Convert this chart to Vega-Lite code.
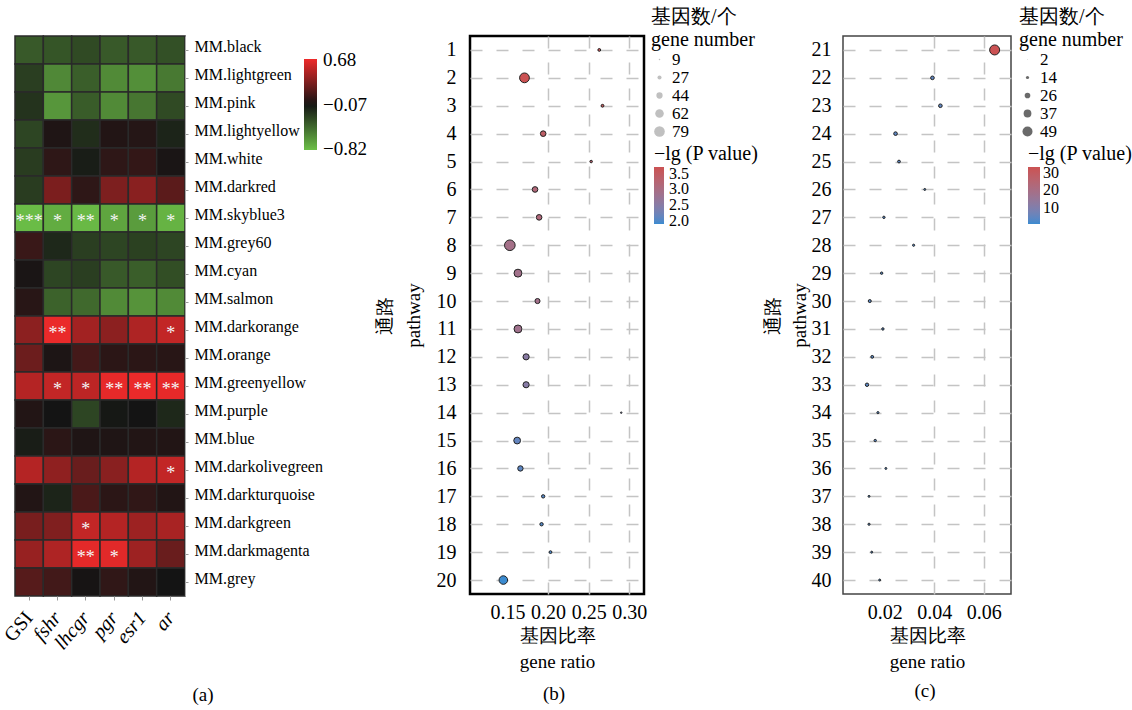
{
  "$schema": "https://vega.github.io/schema/vega-lite/v6.json",
  "padding": {"left": 0, "top": 5, "right": 0, "bottom": 0},
  "config": {
    "font": "Liberation Serif",
    "view": {"stroke": null},
    "axis": {"labelColor": "black", "titleColor": "black", "labelFont": "Liberation Serif", "titleFont": "Liberation Serif", "titleFontWeight": "normal"},
    "legend": {"labelFont": "Liberation Serif", "titleFont": "Liberation Serif", "titleFontWeight": "normal", "labelColor": "black", "titleColor": "black", "padding": 0},
    "title": {"font": "Liberation Serif", "fontWeight": "normal", "fontSize": 19, "color": "black"}
  },
  "bounds": "flush",
  "spacing": 828,
  "resolve": {"scale": {"color": "independent", "size": "independent"}, "legend": {"color": "independent", "size": "independent"}},
  "hconcat": [
    {
      "bounds": "flush",
      "spacing": 285,
      "resolve": {"scale": {"color": "independent", "size": "independent"}, "legend": {"color": "independent", "size": "independent"}},
      "hconcat": [
        {
          "width": 170,
          "height": 560,
          "title": {"text": "(a)", "orient": "bottom", "frame": "group", "dx": 103, "offset": 33},
          "data": {"values": [
            {"module": "MM.black", "trait": "GSI", "r": -0.38, "sig": ""},
            {"module": "MM.black", "trait": "fshr", "r": -0.36, "sig": ""},
            {"module": "MM.black", "trait": "lhcgr", "r": -0.31, "sig": ""},
            {"module": "MM.black", "trait": "pgr", "r": -0.38, "sig": ""},
            {"module": "MM.black", "trait": "esr1", "r": -0.38, "sig": ""},
            {"module": "MM.black", "trait": "ar", "r": -0.34, "sig": ""},
            {"module": "MM.lightgreen", "trait": "GSI", "r": -0.26, "sig": ""},
            {"module": "MM.lightgreen", "trait": "fshr", "r": -0.59, "sig": ""},
            {"module": "MM.lightgreen", "trait": "lhcgr", "r": -0.40, "sig": ""},
            {"module": "MM.lightgreen", "trait": "pgr", "r": -0.60, "sig": ""},
            {"module": "MM.lightgreen", "trait": "esr1", "r": -0.62, "sig": ""},
            {"module": "MM.lightgreen", "trait": "ar", "r": -0.52, "sig": ""},
            {"module": "MM.pink", "trait": "GSI", "r": -0.21, "sig": ""},
            {"module": "MM.pink", "trait": "fshr", "r": -0.65, "sig": ""},
            {"module": "MM.pink", "trait": "lhcgr", "r": -0.39, "sig": ""},
            {"module": "MM.pink", "trait": "pgr", "r": -0.60, "sig": ""},
            {"module": "MM.pink", "trait": "esr1", "r": -0.51, "sig": ""},
            {"module": "MM.pink", "trait": "ar", "r": -0.31, "sig": ""},
            {"module": "MM.lightyellow", "trait": "GSI", "r": -0.29, "sig": ""},
            {"module": "MM.lightyellow", "trait": "fshr", "r": -0.03, "sig": ""},
            {"module": "MM.lightyellow", "trait": "lhcgr", "r": -0.18, "sig": ""},
            {"module": "MM.lightyellow", "trait": "pgr", "r": -0.02, "sig": ""},
            {"module": "MM.lightyellow", "trait": "esr1", "r": -0.01, "sig": ""},
            {"module": "MM.lightyellow", "trait": "ar", "r": -0.14, "sig": ""},
            {"module": "MM.white", "trait": "GSI", "r": -0.25, "sig": ""},
            {"module": "MM.white", "trait": "fshr", "r": 0.02, "sig": ""},
            {"module": "MM.white", "trait": "lhcgr", "r": -0.11, "sig": ""},
            {"module": "MM.white", "trait": "pgr", "r": 0.02, "sig": ""},
            {"module": "MM.white", "trait": "esr1", "r": 0.04, "sig": ""},
            {"module": "MM.white", "trait": "ar", "r": -0.05, "sig": ""},
            {"module": "MM.darkred", "trait": "GSI", "r": -0.25, "sig": ""},
            {"module": "MM.darkred", "trait": "fshr", "r": 0.29, "sig": ""},
            {"module": "MM.darkred", "trait": "lhcgr", "r": 0.02, "sig": ""},
            {"module": "MM.darkred", "trait": "pgr", "r": 0.30, "sig": ""},
            {"module": "MM.darkred", "trait": "esr1", "r": 0.34, "sig": ""},
            {"module": "MM.darkred", "trait": "ar", "r": 0.18, "sig": ""},
            {"module": "MM.skyblue3", "trait": "GSI", "r": -0.82, "sig": "***"},
            {"module": "MM.skyblue3", "trait": "fshr", "r": -0.75, "sig": "*"},
            {"module": "MM.skyblue3", "trait": "lhcgr", "r": -0.81, "sig": "**"},
            {"module": "MM.skyblue3", "trait": "pgr", "r": -0.72, "sig": "*"},
            {"module": "MM.skyblue3", "trait": "esr1", "r": -0.68, "sig": "*"},
            {"module": "MM.skyblue3", "trait": "ar", "r": -0.78, "sig": "*"},
            {"module": "MM.grey60", "trait": "GSI", "r": 0.06, "sig": ""},
            {"module": "MM.grey60", "trait": "fshr", "r": -0.16, "sig": ""},
            {"module": "MM.grey60", "trait": "lhcgr", "r": -0.26, "sig": ""},
            {"module": "MM.grey60", "trait": "pgr", "r": -0.29, "sig": ""},
            {"module": "MM.grey60", "trait": "esr1", "r": -0.27, "sig": ""},
            {"module": "MM.grey60", "trait": "ar", "r": -0.29, "sig": ""},
            {"module": "MM.cyan", "trait": "GSI", "r": -0.05, "sig": ""},
            {"module": "MM.cyan", "trait": "fshr", "r": -0.29, "sig": ""},
            {"module": "MM.cyan", "trait": "lhcgr", "r": -0.26, "sig": ""},
            {"module": "MM.cyan", "trait": "pgr", "r": -0.38, "sig": ""},
            {"module": "MM.cyan", "trait": "esr1", "r": -0.40, "sig": ""},
            {"module": "MM.cyan", "trait": "ar", "r": -0.33, "sig": ""},
            {"module": "MM.salmon", "trait": "GSI", "r": 0.00, "sig": ""},
            {"module": "MM.salmon", "trait": "fshr", "r": -0.42, "sig": ""},
            {"module": "MM.salmon", "trait": "lhcgr", "r": -0.45, "sig": ""},
            {"module": "MM.salmon", "trait": "pgr", "r": -0.60, "sig": ""},
            {"module": "MM.salmon", "trait": "esr1", "r": -0.64, "sig": ""},
            {"module": "MM.salmon", "trait": "ar", "r": -0.60, "sig": ""},
            {"module": "MM.darkorange", "trait": "GSI", "r": 0.35, "sig": ""},
            {"module": "MM.darkorange", "trait": "fshr", "r": 0.68, "sig": "**"},
            {"module": "MM.darkorange", "trait": "lhcgr", "r": 0.43, "sig": ""},
            {"module": "MM.darkorange", "trait": "pgr", "r": 0.35, "sig": ""},
            {"module": "MM.darkorange", "trait": "esr1", "r": 0.47, "sig": ""},
            {"module": "MM.darkorange", "trait": "ar", "r": 0.54, "sig": "*"},
            {"module": "MM.orange", "trait": "GSI", "r": 0.24, "sig": ""},
            {"module": "MM.orange", "trait": "fshr", "r": -0.04, "sig": ""},
            {"module": "MM.orange", "trait": "lhcgr", "r": 0.10, "sig": ""},
            {"module": "MM.orange", "trait": "pgr", "r": 0.01, "sig": ""},
            {"module": "MM.orange", "trait": "esr1", "r": 0.01, "sig": ""},
            {"module": "MM.orange", "trait": "ar", "r": 0.00, "sig": ""},
            {"module": "MM.greenyellow", "trait": "GSI", "r": 0.49, "sig": ""},
            {"module": "MM.greenyellow", "trait": "fshr", "r": 0.54, "sig": "*"},
            {"module": "MM.greenyellow", "trait": "lhcgr", "r": 0.52, "sig": "*"},
            {"module": "MM.greenyellow", "trait": "pgr", "r": 0.67, "sig": "**"},
            {"module": "MM.greenyellow", "trait": "esr1", "r": 0.68, "sig": "**"},
            {"module": "MM.greenyellow", "trait": "ar", "r": 0.67, "sig": "**"},
            {"module": "MM.purple", "trait": "GSI", "r": -0.02, "sig": ""},
            {"module": "MM.purple", "trait": "fshr", "r": -0.07, "sig": ""},
            {"module": "MM.purple", "trait": "lhcgr", "r": -0.29, "sig": ""},
            {"module": "MM.purple", "trait": "pgr", "r": -0.09, "sig": ""},
            {"module": "MM.purple", "trait": "esr1", "r": -0.07, "sig": ""},
            {"module": "MM.purple", "trait": "ar", "r": -0.16, "sig": ""},
            {"module": "MM.blue", "trait": "GSI", "r": -0.11, "sig": ""},
            {"module": "MM.blue", "trait": "fshr", "r": 0.01, "sig": ""},
            {"module": "MM.blue", "trait": "lhcgr", "r": -0.03, "sig": ""},
            {"module": "MM.blue", "trait": "pgr", "r": -0.03, "sig": ""},
            {"module": "MM.blue", "trait": "esr1", "r": -0.02, "sig": ""},
            {"module": "MM.blue", "trait": "ar", "r": -0.02, "sig": ""},
            {"module": "MM.darkolivegreen", "trait": "GSI", "r": 0.49, "sig": ""},
            {"module": "MM.darkolivegreen", "trait": "fshr", "r": 0.36, "sig": ""},
            {"module": "MM.darkolivegreen", "trait": "lhcgr", "r": 0.23, "sig": ""},
            {"module": "MM.darkolivegreen", "trait": "pgr", "r": 0.34, "sig": ""},
            {"module": "MM.darkolivegreen", "trait": "esr1", "r": 0.49, "sig": ""},
            {"module": "MM.darkolivegreen", "trait": "ar", "r": 0.54, "sig": "*"},
            {"module": "MM.darkturquoise", "trait": "GSI", "r": -0.02, "sig": ""},
            {"module": "MM.darkturquoise", "trait": "fshr", "r": -0.14, "sig": ""},
            {"module": "MM.darkturquoise", "trait": "lhcgr", "r": 0.12, "sig": ""},
            {"module": "MM.darkturquoise", "trait": "pgr", "r": 0.01, "sig": ""},
            {"module": "MM.darkturquoise", "trait": "esr1", "r": 0.03, "sig": ""},
            {"module": "MM.darkturquoise", "trait": "ar", "r": -0.02, "sig": ""},
            {"module": "MM.darkgreen", "trait": "GSI", "r": 0.28, "sig": ""},
            {"module": "MM.darkgreen", "trait": "fshr", "r": 0.31, "sig": ""},
            {"module": "MM.darkgreen", "trait": "lhcgr", "r": 0.54, "sig": "*"},
            {"module": "MM.darkgreen", "trait": "pgr", "r": 0.49, "sig": ""},
            {"module": "MM.darkgreen", "trait": "esr1", "r": 0.41, "sig": ""},
            {"module": "MM.darkgreen", "trait": "ar", "r": 0.45, "sig": ""},
            {"module": "MM.darkmagenta", "trait": "GSI", "r": 0.39, "sig": ""},
            {"module": "MM.darkmagenta", "trait": "fshr", "r": 0.47, "sig": ""},
            {"module": "MM.darkmagenta", "trait": "lhcgr", "r": 0.66, "sig": "**"},
            {"module": "MM.darkmagenta", "trait": "pgr", "r": 0.65, "sig": "*"},
            {"module": "MM.darkmagenta", "trait": "esr1", "r": 0.41, "sig": ""},
            {"module": "MM.darkmagenta", "trait": "ar", "r": 0.23, "sig": ""},
            {"module": "MM.grey", "trait": "GSI", "r": 0.16, "sig": ""},
            {"module": "MM.grey", "trait": "fshr", "r": 0.09, "sig": ""},
            {"module": "MM.grey", "trait": "lhcgr", "r": -0.06, "sig": ""},
            {"module": "MM.grey", "trait": "pgr", "r": 0.03, "sig": ""},
            {"module": "MM.grey", "trait": "esr1", "r": -0.02, "sig": ""},
            {"module": "MM.grey", "trait": "ar", "r": -0.07, "sig": ""}
          ]},
          "encoding": {
            "x": {"field": "trait", "type": "nominal", "sort": ["GSI", "fshr", "lhcgr", "pgr", "esr1", "ar"],
                  "scale": {"paddingInner": 0, "paddingOuter": 0},
                  "axis": {"title": null, "orient": "bottom", "domain": false, "ticks": true, "tickColor": "#999999", "tickSize": 4,
                           "labelAngle": -50, "labelAlign": "right", "labelBaseline": "middle", "labelFontSize": 20, "labelPadding": 14,
                           "labelFontStyle": {"condition": {"test": "datum.value === 'GSI'", "value": "normal"}, "value": "italic"}}},
            "y": {"field": "module", "type": "nominal", "sort": null,
                  "scale": {"paddingInner": 0, "paddingOuter": 0},
                  "axis": {"title": null, "orient": "right", "domain": true, "domainColor": "#aaaaaa", "ticks": true, "tickColor": "#999999", "tickSize": 3,
                           "labelFontSize": 16, "labelPadding": 6, "labelOffset": -3}}
          },
          "layer": [
            {
              "mark": {"type": "rect", "stroke": "#2a2a2a", "strokeWidth": 1.5},
              "encoding": {
                "color": {"field": "r", "type": "quantitative",
                          "scale": {"domain": [-0.835, -0.07, 0.695], "range": ["#6cbf47", "#141414", "#ee2a2a"], "interpolate": "rgb"},
                          "legend": {"orient": "none", "legendX": 289, "legendY": 23, "direction": "vertical", "title": null,
                                     "gradientLength": 91, "gradientThickness": 13, "gradientStrokeWidth": 0,
                                     "values": [-0.82, -0.07, 0.68], "format": ".2f", "labelFontSize": 19, "labelOffset": 6,
                                     "labelOverlap": false}}
              }
            },
            {
              "mark": {"type": "text", "color": "#f4f4f4", "fontSize": 18, "dy": 4},
              "encoding": {"text": {"field": "sig"}}
            }
          ]
        },
        {
          "width": 174,
          "height": 558,
          "view": {"stroke": "black", "strokeWidth": 2.5},
          "title": {"text": "(b)", "orient": "bottom", "frame": "group", "dx": -3, "offset": 14},
          "data": {"values": [
            {"pathway": 1, "ratio": 0.263, "count": 18, "lgp": 3.62},
            {"pathway": 2, "ratio": 0.171, "count": 72, "lgp": 3.71},
            {"pathway": 3, "ratio": 0.267, "count": 18, "lgp": 3.58},
            {"pathway": 4, "ratio": 0.194, "count": 39, "lgp": 3.42},
            {"pathway": 5, "ratio": 0.253, "count": 16, "lgp": 3.30},
            {"pathway": 6, "ratio": 0.184, "count": 39, "lgp": 3.15},
            {"pathway": 7, "ratio": 0.189, "count": 39, "lgp": 3.12},
            {"pathway": 8, "ratio": 0.153, "count": 79, "lgp": 2.92},
            {"pathway": 9, "ratio": 0.163, "count": 57, "lgp": 2.88},
            {"pathway": 10, "ratio": 0.187, "count": 35, "lgp": 2.90},
            {"pathway": 11, "ratio": 0.163, "count": 57, "lgp": 2.85},
            {"pathway": 12, "ratio": 0.173, "count": 43, "lgp": 2.52},
            {"pathway": 13, "ratio": 0.173, "count": 43, "lgp": 2.50},
            {"pathway": 14, "ratio": 0.290, "count": 9, "lgp": 2.35},
            {"pathway": 15, "ratio": 0.162, "count": 48, "lgp": 2.15},
            {"pathway": 16, "ratio": 0.166, "count": 37, "lgp": 2.10},
            {"pathway": 17, "ratio": 0.194, "count": 22, "lgp": 2.05},
            {"pathway": 18, "ratio": 0.192, "count": 22, "lgp": 2.03},
            {"pathway": 19, "ratio": 0.203, "count": 18, "lgp": 2.00},
            {"pathway": 20, "ratio": 0.145, "count": 62, "lgp": 1.91}
          ]},
          "mark": {"type": "circle", "opacity": 1, "stroke": "#222222", "strokeWidth": 1},
          "encoding": {
            "x": {"field": "ratio", "type": "quantitative", "scale": {"domain": [0.104, 0.318], "nice": false, "zero": false},
                  "axis": {"title": ["基因比率", "gene ratio"], "values": [0.15, 0.2, 0.25, 0.3], "format": ".2f", "ticks": false, "domain": false,
                           "grid": true, "gridColor": "#c4c4c4", "gridWidth": 1.5, "gridDash": [12, 14],
                           "gridOpacity": {"condition": {"test": "datum.value < 0.17", "value": 0}, "value": 1},
                           "labelFontSize": 20, "labelPadding": 8, "titleFontSize": 19, "titleLineHeight": 26, "titlePadding": 4}},
            "y": {"field": "pathway", "type": "ordinal",
                  "axis": {"title": ["通路", "pathway"], "ticks": false, "domain": false, "grid": true, "gridColor": "#c4c4c4", "gridWidth": 1.5, "gridDash": [12, 14],
                           "labelFontSize": 20, "labelPadding": 14, "labelAngle": 0, "titleFontSize": 19, "titleLineHeight": 29, "titlePadding": 13}},
            "size": {"field": "count", "type": "quantitative",
                     "scale": {"type": "pow", "exponent": 1.8, "domain": [0, 79], "range": [0, 113]},
                     "legend": {"orient": "none", "legendX": 181, "legendY": -29, "title": ["基因数/个", "gene number"],
                                "titleFontSize": 20, "titleLineHeight": 23, "titlePadding": 1,
                                "values": [9, 27, 44, 62, 79], "labelFontSize": 17, "rowPadding": 0, "labelOffset": 4, "symbolType": "circle",
                                "symbolFillColor": "#c0c0c0", "symbolStrokeWidth": 0, "symbolOpacity": 1,
                                "encode": {"symbols": {"update": {"fill": {"value": "#c0c0c0"}, "stroke": {"value": "transparent"}, "opacity": {"value": 1}}}}}},
            "color": {"field": "lgp", "type": "quantitative",
                      "scale": {"domain": [1.91, 3.71], "range": ["#3b8bd0", "#cb5253"], "interpolate": "lab"},
                      "legend": {"orient": "none", "legendX": 184, "legendY": 108, "direction": "vertical", "title": "−lg (P value)",
                                 "titleFontSize": 20, "titlePadding": 3, "gradientLength": 57, "gradientThickness": 10, "gradientStrokeWidth": 0,
                                 "values": [2, 2.5, 3, 3.5], "format": ".1f", "labelFontSize": 16, "labelOverlap": false, "labelOffset": 5}}
          }
        }
      ]
    },
    {
      "width": 168,
      "height": 558,
      "view": {"stroke": "#444444", "strokeWidth": 1.5},
      "title": {"text": "(c)", "orient": "bottom", "frame": "group", "dx": -2, "offset": 11},
      "data": {"values": [
        {"pathway": 21, "ratio": 0.0644, "count": 49, "lgp": 33.5},
        {"pathway": 22, "ratio": 0.0393, "count": 16, "lgp": 4.5},
        {"pathway": 23, "ratio": 0.0425, "count": 16, "lgp": 4.5},
        {"pathway": 24, "ratio": 0.0244, "count": 16, "lgp": 4.0},
        {"pathway": 25, "ratio": 0.0258, "count": 12, "lgp": 3.5},
        {"pathway": 26, "ratio": 0.0362, "count": 8, "lgp": 2.5},
        {"pathway": 27, "ratio": 0.0197, "count": 10, "lgp": 3.0},
        {"pathway": 28, "ratio": 0.0317, "count": 9, "lgp": 2.5},
        {"pathway": 29, "ratio": 0.0188, "count": 10, "lgp": 3.0},
        {"pathway": 30, "ratio": 0.0140, "count": 13, "lgp": 3.5},
        {"pathway": 31, "ratio": 0.0193, "count": 10, "lgp": 3.0},
        {"pathway": 32, "ratio": 0.0150, "count": 12, "lgp": 3.2},
        {"pathway": 33, "ratio": 0.0129, "count": 15, "lgp": 3.6},
        {"pathway": 34, "ratio": 0.0173, "count": 9, "lgp": 2.8},
        {"pathway": 35, "ratio": 0.0162, "count": 10, "lgp": 2.9},
        {"pathway": 36, "ratio": 0.0205, "count": 8, "lgp": 2.5},
        {"pathway": 37, "ratio": 0.0137, "count": 8, "lgp": 2.6},
        {"pathway": 38, "ratio": 0.0137, "count": 9, "lgp": 2.7},
        {"pathway": 39, "ratio": 0.0148, "count": 8, "lgp": 2.6},
        {"pathway": 40, "ratio": 0.0180, "count": 8, "lgp": 2.5}
      ]},
      "mark": {"type": "circle", "opacity": 1, "stroke": "#222222", "strokeWidth": 1},
      "encoding": {
        "x": {"field": "ratio", "type": "quantitative", "scale": {"domain": [0.0032, 0.071], "nice": false, "zero": false},
              "axis": {"title": ["基因比率", "gene ratio"], "values": [0.02, 0.04, 0.06], "format": ".2f", "ticks": false, "domain": false,
                       "grid": true, "gridColor": "#c4c4c4", "gridWidth": 1.5, "gridDash": [12, 14],
                       "gridOpacity": {"condition": {"test": "datum.value < 0.03", "value": 0}, "value": 1},
                       "labelFontSize": 20, "labelPadding": 8, "titleFontSize": 19, "titleLineHeight": 26, "titlePadding": 4}},
        "y": {"field": "pathway", "type": "ordinal",
              "axis": {"title": ["通路", "pathway"], "ticks": false, "domain": false, "grid": true, "gridColor": "#c4c4c4", "gridWidth": 1.5, "gridDash": [12, 14],
                       "labelFontSize": 20, "labelPadding": 12, "labelAngle": 0, "titleFontSize": 19, "titleLineHeight": 27, "titlePadding": 2}},
        "size": {"field": "count", "type": "quantitative",
                 "scale": {"type": "pow", "exponent": 1.8, "domain": [0, 49], "range": [0, 100]},
                 "legend": {"orient": "none", "legendX": 176, "legendY": -29, "title": ["基因数/个", "gene number"],
                            "titleFontSize": 20, "titleLineHeight": 23, "titlePadding": 1,
                            "values": [2, 14, 26, 37, 49], "labelFontSize": 17, "rowPadding": 0, "labelOffset": 4, "symbolType": "circle",
                            "symbolFillColor": "#6a6a6a", "symbolStrokeWidth": 0, "symbolOpacity": 1,
                            "encode": {"symbols": {"update": {"fill": {"value": "#6a6a6a"}, "stroke": {"value": "transparent"}, "opacity": {"value": 1}}}}}},
        "color": {"field": "lgp", "type": "quantitative",
                  "scale": {"domain": [0.5, 33.5], "range": ["#3b8bd0", "#cb5253"], "interpolate": "lab"},
                  "legend": {"orient": "none", "legendX": 185, "legendY": 108, "direction": "vertical", "title": "−lg (P value)",
                             "titleFontSize": 20, "titlePadding": 3, "gradientLength": 57, "gradientThickness": 12, "gradientStrokeWidth": 0,
                             "values": [10, 20, 30], "format": "d", "labelFontSize": 16, "labelOverlap": false, "labelOffset": 3}}
      }
    }
  ]
}
